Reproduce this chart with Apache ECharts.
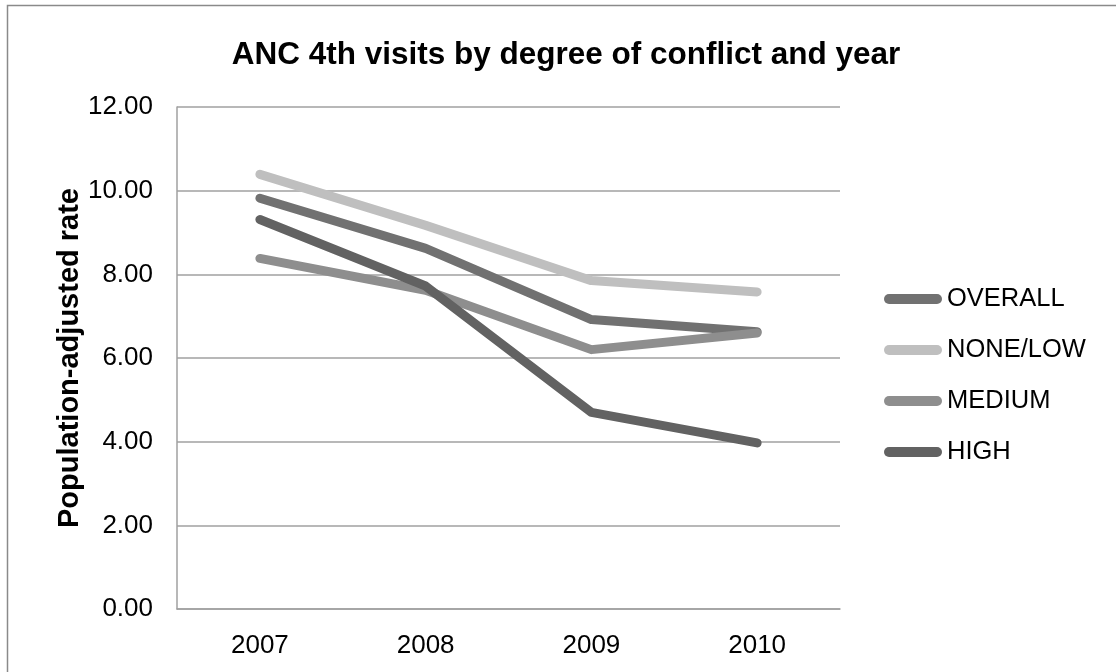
<!DOCTYPE html>
<html>
<head>
<meta charset="utf-8">
<title>ANC 4th visits by degree of conflict and year</title>
<script src="https://cdn.jsdelivr.net/npm/echarts@6/dist/echarts.min.js"></script>
<style>
  html, body { margin: 0; padding: 0; background: #ffffff; }
  #chart { width: 1116px; height: 672px; }
</style>
</head>
<body>
<div id="chart"></div>
<script>
// Population-adjusted rate of ANC 4th visits, by conflict level
const years = ['2007', '2008', '2009', '2010'];
const overall = [9.82, 8.62, 6.92, 6.63];
const noneLow = [10.39, 9.17, 7.85, 7.58];
const medium = [8.38, 7.62, 6.20, 6.60];
const high = [9.31, 7.72, 4.70, 3.97];
const seriesNames = ['OVERALL', 'NONE/LOW', 'MEDIUM', 'HIGH'];
const seriesColors = ['#717171', '#bfbfbf', '#8e8e8e', '#626262'];

const FONT = '"Liberation Sans", Arial, sans-serif';
const pill = 'path://M5,0 L53,0 A5,5 0 0 1 53,10 L5,10 A5,5 0 0 1 5,0 Z';

const chart = echarts.init(document.getElementById('chart'), null, { renderer: 'canvas' });

function lineSeries(name, data, color) {
  return {
    name: name,
    type: 'line',
    data: data,
    symbol: 'none',
    smooth: false,
    lineStyle: { color: color, width: 9, cap: 'round', join: 'round' },
    itemStyle: { color: color },
    emphasis: { disabled: true }
  };
}

chart.setOption({
  backgroundColor: '#ffffff',
  animation: false,
  textStyle: { fontFamily: FONT },
  title: {
    text: 'ANC 4th visits by degree of conflict and year',
    left: 561,
    textAlign: 'center',
    top: 34,
    textStyle: { fontFamily: FONT, fontSize: 31.5, fontWeight: 'bold', color: '#000000' }
  },
  graphic: [{
    type: 'rect',
    silent: true,
    shape: { x: 7.5, y: 5.5, width: 1300, height: 900 },
    style: { fill: 'none', stroke: '#8a8a8a', lineWidth: 1.5 }
  }],
  legend: {
    orient: 'vertical',
    left: 879,
    top: 281,
    itemWidth: 58,
    itemHeight: 10,
    itemGap: 25,
    icon: pill,
    data: seriesNames,
    textStyle: { fontFamily: FONT, fontSize: 25.5, color: '#000000', lineHeight: 24 }
  },
  grid: { left: 177, right: 276, top: 107, bottom: 63, containLabel: false },
  xAxis: {
    type: 'category',
    data: years,
    boundaryGap: true,
    axisLine: { show: true, lineStyle: { color: '#a0a0a0', width: 1.5 } },
    axisTick: { show: false },
    axisLabel: { fontFamily: FONT, fontSize: 26, color: '#000000', margin: 24 },
    splitLine: { show: false }
  },
  yAxis: {
    type: 'value',
    min: 0,
    max: 12,
    interval: 2,
    name: 'Population-adjusted rate',
    nameLocation: 'middle',
    nameGap: 93,
    nameMoveOverlap: false,
    nameRotate: 90,
    nameTextStyle: { fontFamily: FONT, fontSize: 29, fontWeight: 'bold', color: '#000000' },
    axisLine: { show: true, lineStyle: { color: '#a0a0a0', width: 1.5 } },
    axisTick: { show: false },
    axisLabel: {
      fontFamily: FONT, fontSize: 26, color: '#000000', margin: 24,
      formatter: function (v) { return v.toFixed(2); }
    },
    splitLine: { show: true, lineStyle: { color: '#a0a0a0', width: 1.5 } }
  },
  series: [
    lineSeries(seriesNames[0], overall, seriesColors[0]),
    lineSeries(seriesNames[1], noneLow, seriesColors[1]),
    lineSeries(seriesNames[2], medium, seriesColors[2]),
    lineSeries(seriesNames[3], high, seriesColors[3])
  ]
});
</script>
</body>
</html>
